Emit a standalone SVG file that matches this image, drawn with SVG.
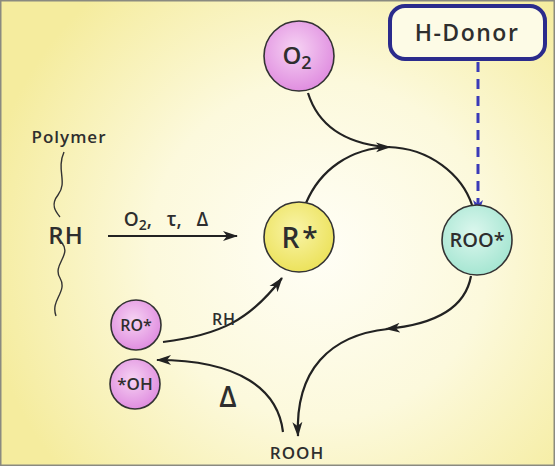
<svg xmlns="http://www.w3.org/2000/svg" width="555" height="466" viewBox="0 0 555 466">
<defs>
<radialGradient id="bg" cx="320" cy="250" r="340" gradientUnits="userSpaceOnUse">
<stop offset="0" stop-color="#fffef6"/>
<stop offset="0.5" stop-color="#fcf9dc"/>
<stop offset="1" stop-color="#f5ec9e"/>
</radialGradient>
<radialGradient id="pink" cx="0.45" cy="0.4" r="0.6">
<stop offset="0" stop-color="#f6d2f3"/>
<stop offset="1" stop-color="#e08ee0"/>
</radialGradient>
<radialGradient id="yel" cx="0.45" cy="0.4" r="0.6">
<stop offset="0" stop-color="#f9f4a8"/>
<stop offset="1" stop-color="#ece25c"/>
</radialGradient>
<radialGradient id="teal" cx="0.45" cy="0.4" r="0.6">
<stop offset="0" stop-color="#dcf7ee"/>
<stop offset="1" stop-color="#a6e6d2"/>
</radialGradient>
<marker id="ah" markerWidth="16" markerHeight="12" refX="14" refY="6" orient="auto" markerUnits="userSpaceOnUse">
<path d="M0,1 L15,6 L0,11 L4,6 z" fill="#222"/>
</marker>
<marker id="ahb" markerWidth="16" markerHeight="12" refX="14" refY="6" orient="auto" markerUnits="userSpaceOnUse">
<path d="M0,1 L15,6 L0,11 L4,6 z" fill="#3a3ab8"/>
</marker>
</defs>
<style>
.t{font-family:"Open Sans","DejaVu Sans",sans-serif;fill:#2e2e2e;text-anchor:middle;font-weight:600}
.c{stroke:#333;stroke-width:1.6}
.ln{fill:none;stroke:#222;stroke-width:2.2}
</style>
<rect x="0" y="0" width="555" height="466" fill="url(#bg)"/>
<rect x="0.5" y="0.5" width="554" height="465" fill="none" stroke="#8a8a80" stroke-width="2"/>

<g id="connectors">
<path class="ln" d="M306,203 C320,170 350,148 390,147" marker-end="url(#ah)"/>
<path class="ln" d="M388,147 C430,148 462,175 472,205"/>
<path class="ln" d="M308,93 C318,125 345,143 385,147"/>
<path class="ln" d="M471,276 C465,310 430,325 386,329" marker-end="url(#ah)"/>
<path class="ln" d="M388,329 C330,335 295,370 298,436" marker-end="url(#ah)"/>
<path class="ln" d="M283,432 C278,390 240,360 157,360" marker-end="url(#ah)"/>
<path class="ln" d="M163,342 C220,335 250,320 282,278" marker-end="url(#ah)"/>
<path class="ln" d="M108,236 L237,236" marker-end="url(#ah)" stroke-width="1.8"/>
<path d="M478,62 L478,214" fill="none" stroke="#3a3ab8" stroke-width="3" stroke-dasharray="10 7" marker-end="url(#ahb)"/>
<path d="M64,152 C56,170 68,182 58,195 C50,205 56,212 60,217" fill="none" stroke="#333" stroke-width="1.4"/>
<path d="M62,243 C72,255 52,265 60,278 C68,292 50,300 56,316" fill="none" stroke="#333" stroke-width="1.4"/>
</g>

<g id="h-donor">
<rect x="390" y="6" width="155" height="53" rx="15" fill="#fdfbe6" stroke="#2b2b8c" stroke-width="4"/>
<text class="t" x="467" y="41" font-size="23" letter-spacing="1.5" font-weight="400">H-Donor</text>
</g>
<g id="o2">
<circle class="c" cx="299" cy="56" r="35" fill="url(#pink)"/>
<text class="t" x="297" y="64" font-size="24">O<tspan font-size="18" dy="5">2</tspan></text>
</g>
<g id="r">
<circle class="c" cx="299" cy="237" r="35" fill="url(#yel)"/>
<text class="t" x="301" y="248" font-size="28" letter-spacing="3">R*</text>
</g>
<g id="roo">
<circle class="c" cx="477" cy="240" r="35" fill="url(#teal)"/>
<text class="t" x="477" y="247" font-size="20">ROO*</text>
</g>
<g id="ro">
<circle class="c" cx="136" cy="325" r="25" fill="url(#pink)"/>
<text class="t" x="136" y="331" font-size="16">RO*</text>
</g>
<g id="oh">
<circle class="c" cx="135" cy="384" r="25" fill="url(#pink)"/>
<text class="t" x="135" y="390" font-size="17">*OH</text>
</g>
<g id="labels">
<text class="t" x="69" y="143" font-size="17" letter-spacing="1">Polymer</text>
<text class="t" x="66" y="244" font-size="24" letter-spacing="1">RH</text>
<text class="t" x="166" y="226" font-size="19" font-weight="400" xml:space="preserve">O<tspan font-size="14" dy="4">2</tspan><tspan dy="-4">,   τ,   Δ</tspan></text>
<text class="t" x="224" y="325" font-size="16" letter-spacing="1">RH</text>
<text class="t" x="228" y="407" font-size="28" font-weight="400">Δ</text>
<text class="t" x="297" y="459" font-size="17" letter-spacing="1">ROOH</text>
</g>
</svg>
